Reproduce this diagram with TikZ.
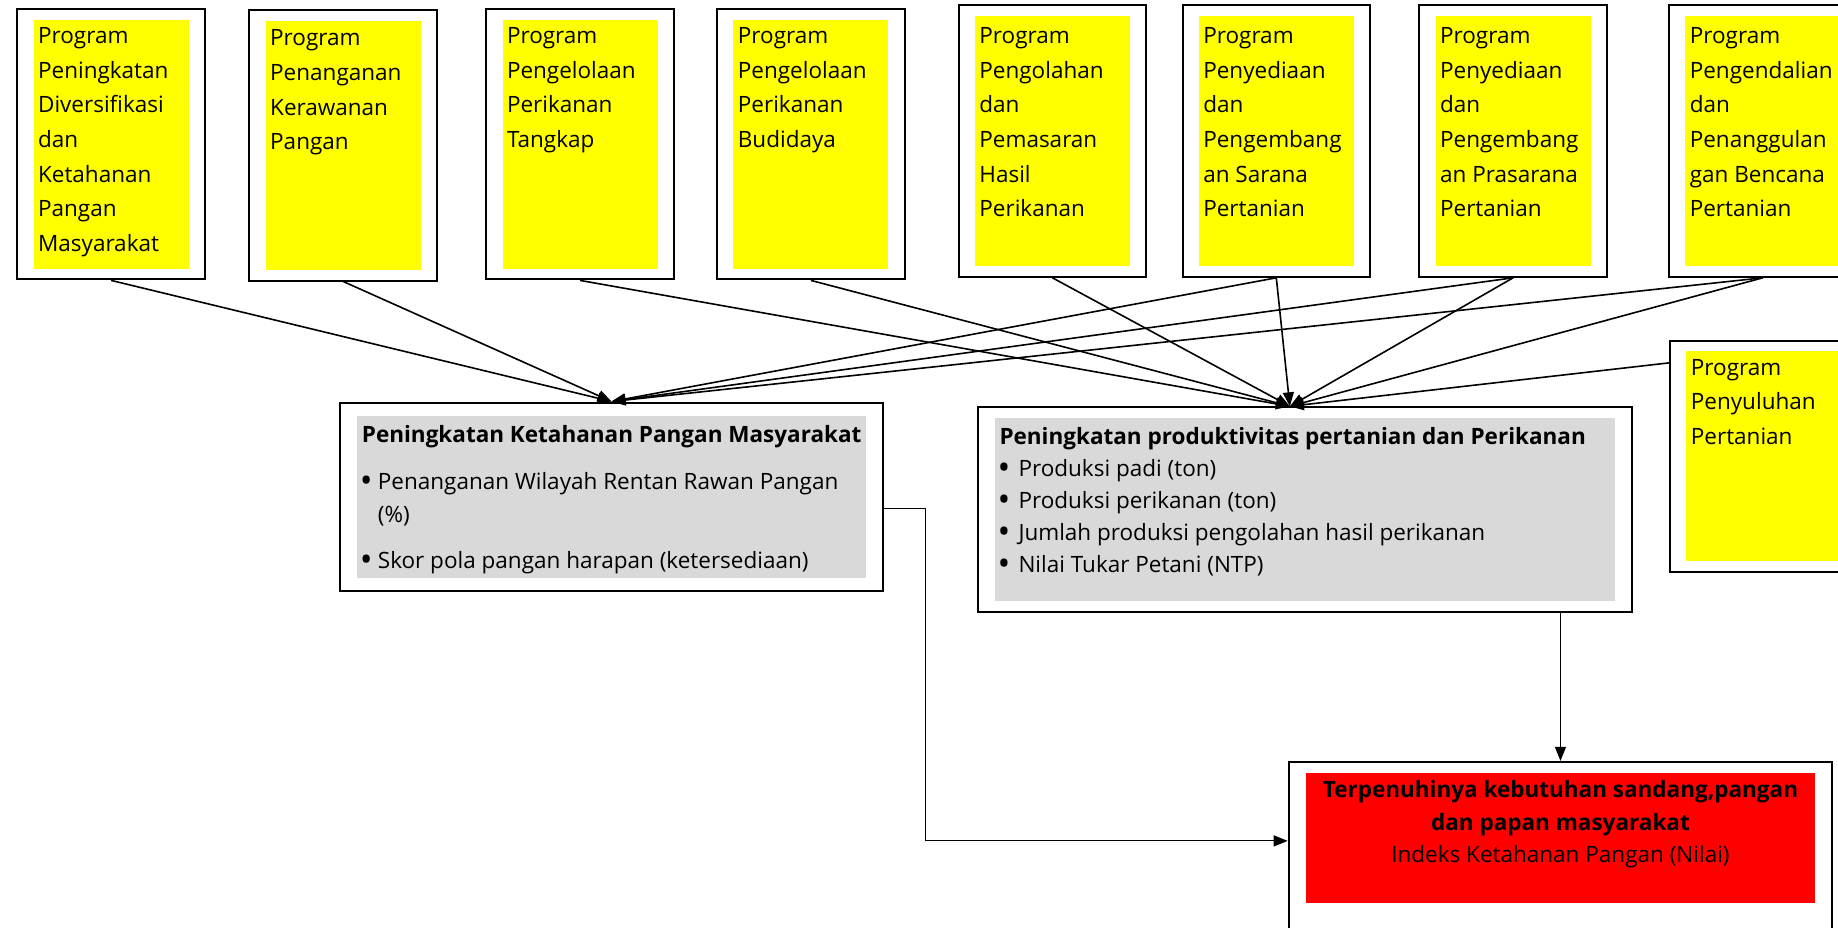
\documentclass[tikz,border=0pt]{standalone}
\usepackage{fontspec}
\setmainfont{Open Sans}
\usetikzlibrary{arrows.meta, positioning, fit, calc}
\definecolor{cyellow}{HTML}{FFFF00}
\definecolor{cgrey}{HTML}{D9D9D9}
\definecolor{cred}{HTML}{FF0000}
\newcommand{\bul}[1][16pt]{\makebox[#1][l]{\hspace*{-2pt}\fontsize{34}{34}\selectfont\raisebox{-3pt}{\textbullet}}}
\tikzset{
  every picture/.style={line width=1.6pt},
  outerbox/.style={draw=black, line width=2pt, inner xsep=15.5pt, inner ysep=10pt},
  fillbox/.style={fill=#1, draw=none, anchor=north west, inner sep=0pt},
  progtext/.style={anchor=north west, align=left, inner xsep=4.5pt, inner ysep=0pt, font=\fontsize{22.5}{34.6}\selectfont},
  goaltext/.style={anchor=north west, align=left, inner xsep=4.7pt, font=\fontsize{22.5}{32.8}\selectfont},
  arrow/.style={-{Triangle[length=14pt, width=11pt]}, line width=1.6pt},
  thinarrow/.style={-{Triangle[length=14pt, width=11pt]}, line width=1.1pt},
}

\begin{document}
\begin{tikzpicture}[x=1pt, y=-1pt]
  \useasboundingbox (0,0) rectangle (1838,928);
  % program boxes: name / x / y / height / text top / text
  \foreach \n/\x/\y/\h/\ty/\txt in {
      p1/32.8/18.8/249/26.8/{Program\\Peningkatan\\Diversifikasi\\dan\\Ketahanan\\Pangan\\Masyarakat},
      p2/264.9/19.9/249/29/{Program\\Penanganan\\Kerawanan\\Pangan},
      p3/501.7/18.8/249/26.8/{Program\\Pengelolaan\\Perikanan\\Tangkap},
      p4/732.6/18.8/249/26.8/{Program\\Pengelolaan\\Perikanan\\Budidaya},
      p5/974.1/15.2/250/26.8/{Program\\Pengolahan\\dan\\Pemasaran\\Hasil\\Perikanan},
      p6/1198/15.2/250/26.8/{Program\\Penyediaan\\dan\\Pengembang\\an Sarana\\Pertanian},
      p7/1434.8/15.2/250/26.8/{Program\\Penyediaan\\dan\\Pengembang\\an Prasarana\\Pertanian},
      p8/1684.5/15.2/250/26.8/{Program\\Pengendalian\\dan\\Penanggulan\\gan Bencana\\Pertanian},
      p9/1685.6/350.5/210/358.5/{Program\\Penyuluhan\\Pertanian}} {
    \node[fillbox=cyellow, minimum width=155, minimum height=\h] (y\n) at (\x,\y) {};
    \node[progtext] (t\n) at (\x,\ty) {\txt};
    \node[outerbox, fit=(y\n)] (\n) {};
  }

  % outcome: ketahanan pangan
  \node[fillbox=cgrey, minimum width=508.7, minimum height=161.7] (ga) at (356.4,415) {};
  \node[goaltext, inner ysep=9.5pt] (ta) at (ga.north west)
    {\textbf{Peningkatan Ketahanan Pangan Masyarakat}\\[14pt]
     \bul[16pt]Penanganan Wilayah Rentan Rawan Pangan\\
     \hspace*{16pt}(\%)\\[14pt]
     \bul[16pt]Skor pola pangan harapan (ketersediaan)};
  \node[outerbox, inner xsep=16pt, inner ysep=12.5pt, fit=(ga)] (A) {};

  % outcome: produktivitas
  \node[fillbox=cgrey, minimum width=620.1, minimum height=182.9] (gb) at (994,417.3) {};
  \node[goaltext, font=\fontsize{22.5}{32}\selectfont, inner ysep=9pt] (tb) at (gb.north west)
    {\textbf{Peningkatan produktivitas pertanian dan Perikanan}\\
     \bul[19pt]Produksi padi (ton)\\
     \bul[19pt]Produksi perikanan (ton)\\
     \bul[19pt]Jumlah produksi pengolahan hasil perikanan\\
     \bul[19pt]Nilai Tukar Petani (NTP)};
  \node[outerbox, inner xsep=16.5pt, fit=(gb)] (B) {};

  % goal
  \node[fillbox=cred, minimum width=509.9, minimum height=130.1] (rc) at (1304.7,772.5) {};
  \node[anchor=north, align=center, inner ysep=7.5pt, font=\fontsize{22.5}{32.5}\selectfont] (tc) at (rc.north)
    {\textbf{Terpenuhinya kebutuhan sandang,pangan}\\
     \textbf{dan papan masyarakat}\\
     Indeks Ketahanan Pangan (Nilai)};
  \coordinate (cbottom) at (1559,945);
  \node[outerbox, inner xsep=16pt, inner ysep=10.6pt, fit=(rc) (cbottom)] (C) {};

  % connectors
  \coordinate (bin) at ([xshift=-15pt]B.north);
  \coordinate (p9out) at ($(p9.north west)!0.1!(p9.south west)$);
  \coordinate (aout) at ($(A.east)+(0,12)$);
  \coordinate (cin) at ($(C.north west)+(0,80)$);
  \foreach \s in {p1,p2,p6,p7,p8} \draw[arrow] (\s.south) -- (A.north);
  \foreach \s in {p3,p4,p5,p6,p7,p8} \draw[arrow] (\s.south) -- (bin);
  \draw[arrow] (p9out) -- (bin);
  \draw[thinarrow] (B.south -| C.north) -- (C.north);
  \draw[thinarrow] (aout) -- ++(42,0) |- (cin);
\end{tikzpicture}
\end{document}
